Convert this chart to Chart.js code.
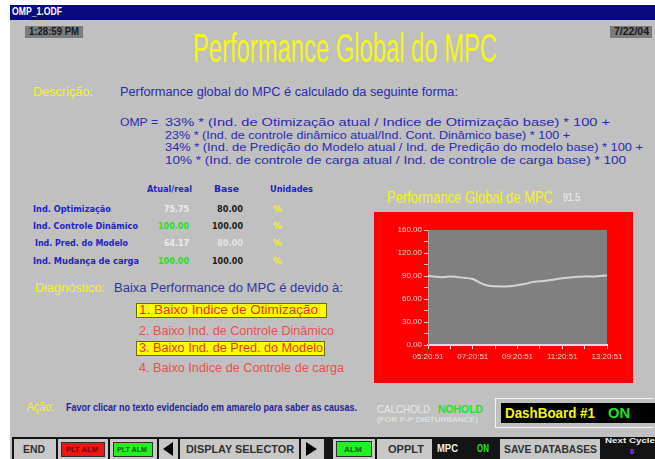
<!DOCTYPE html>
<html>
<head>
<meta charset="utf-8">
<script src="https://cdn.jsdelivr.net/npm/chart.js@4.4.1/dist/chart.umd.min.js"></script>
<style>
  body { margin: 0; width: 655px; height: 459px; background: #fff; overflow: hidden; position: relative; }
  .panel { position: absolute; left: 10px; top: 5px; width: 645px; height: 454px; background: #c0c0c0; }
  .t { position: absolute; white-space: nowrap; line-height: 1; transform-origin: 0 0; display: inline-block;
       font-family: "Liberation Sans Narrow", "Liberation Sans", Arial, sans-serif; }
  .b { font-weight: bold; }
  .v { font-family: "DejaVu Sans Condensed", "DejaVu Sans", Verdana, sans-serif; font-weight: bold; }
  .box { position: absolute; }
  .btn { position: absolute; background: #c8c8c8; }
</style>
</head>
<body>
<div class="panel"></div>
<div class="box" style="left:10px;top:5px;width:645px;height:15px;background:#0a0a80"></div>
<span class="t b" style="left:12px;top:7px;font-size:10px;color:#fff" data-w="50">OMP_1.ODF</span>

<div class="box" style="left:25px;top:26px;width:58px;height:12px;background:#7c7c7c"></div>
<span class="t b" style="left:29px;top:27px;font-size:10px;color:#1a1a1a" data-w="50">1:28:59 PM</span>
<div class="box" style="left:610px;top:26px;width:42px;height:12px;background:#7c7c7c"></div>
<span class="t b" style="left:614px;top:27px;font-size:10px;color:#1a1a1a" data-w="35">7/22/04</span>

<span class="t" style="left:193px;top:28px;font-size:40px;color:#f4f41c" data-w="304">Performance Global do MPC</span>

<span class="t" style="left:33px;top:86px;font-size:12px;color:#f4f41c" data-w="60">Descrição:</span>
<span class="t" style="left:120px;top:86px;font-size:12px;color:#2a2ab4" data-w="338">Performance global do MPC é calculado da seguinte forma:</span>
<span class="t" style="left:120px;top:117px;font-size:11.5px;color:#2a2ab4" data-w="38">OMP =</span>
<span class="t" style="left:165px;top:117px;font-size:11.5px;color:#2a2ab4" data-w="445">33% * (Ind. de Otimização atual / Indice de Otimização base) * 100 +</span>
<span class="t" style="left:165px;top:130px;font-size:11.5px;color:#2a2ab4" data-w="405">23% * (Ind. de controle dinâmico atual/Ind. Cont. Dinâmico base) * 100 +</span>
<span class="t" style="left:165px;top:142px;font-size:11.5px;color:#2a2ab4" data-w="478">34% * (Ind. de Predição do Modelo atual / Ind. de Predição do modelo base) * 100 +</span>
<span class="t" style="left:165px;top:155px;font-size:11.5px;color:#2a2ab4" data-w="461">10% * (Ind. de controle de carga atual / Ind. de controle de carga base) * 100</span>

<span class="t v" style="left:147px;top:185px;font-size:9px;color:#2222c8" data-w="45">Atual/real</span>
<span class="t v" style="left:214px;top:185px;font-size:9px;color:#2222c8" data-w="25">Base</span>
<span class="t v" style="left:270px;top:185px;font-size:9px;color:#2222c8" data-w="43">Unidades</span>

<span class="t v" style="left:33px;top:205px;font-size:9px;color:#2222c8" data-w="78">Ind. Optimização</span>
<span class="t v" style="left:33px;top:222px;font-size:9px;color:#2222c8" data-w="105">Ind. Controle Dinâmico</span>
<span class="t v" style="left:35px;top:239px;font-size:9px;color:#2222c8" data-w="93">Ind. Pred. do Modelo</span>
<span class="t v" style="left:33px;top:257px;font-size:9px;color:#2222c8" data-w="106">Ind. Mudança de carga</span>

<span class="t v" style="left:164px;top:205px;font-size:9px;color:#ececec" data-w="25">75.75</span>
<span class="t v" style="left:158px;top:222px;font-size:9px;color:#22e022" data-w="31">100.00</span>
<span class="t v" style="left:164px;top:239px;font-size:9px;color:#ececec" data-w="25">64.17</span>
<span class="t v" style="left:158px;top:257px;font-size:9px;color:#22e022" data-w="31">100.00</span>

<span class="t v" style="left:217px;top:205px;font-size:9px;color:#1a1a1a" data-w="26">80.00</span>
<span class="t v" style="left:212px;top:222px;font-size:9px;color:#1a1a1a" data-w="31">100.00</span>
<span class="t v" style="left:217px;top:239px;font-size:9px;color:#e4e4e4" data-w="26">80.00</span>
<span class="t v" style="left:212px;top:257px;font-size:9px;color:#1a1a1a" data-w="31">100.00</span>

<span class="t v" style="left:273px;top:205px;font-size:9px;color:#f4f41c" data-w="9">%</span>
<span class="t v" style="left:273px;top:222px;font-size:9px;color:#f4f41c" data-w="9">%</span>
<span class="t v" style="left:273px;top:239px;font-size:9px;color:#f4f41c" data-w="9">%</span>
<span class="t v" style="left:273px;top:257px;font-size:9px;color:#f4f41c" data-w="9">%</span>

<span class="t" style="left:35px;top:282px;font-size:12px;color:#f4f41c" data-w="70">Diagnóstico:</span>
<span class="t" style="left:114px;top:282px;font-size:12px;color:#34349a" data-w="229">Baixa Performance do MPC é devido à:</span>

<div class="box" style="left:136px;top:303px;width:189px;height:13px;background:#ffff00;border:1px solid #6a6a10"></div>
<span class="t" style="left:139px;top:304px;font-size:12px;color:#f03020" data-w="179">1. Baixo Indice de Otimização</span>
<span class="t" style="left:139px;top:325px;font-size:12px;color:#e85050" data-w="195">2. Baixo Ind. de Controle Dinâmico</span>
<div class="box" style="left:136px;top:341px;width:187px;height:13px;background:#ffff00;border:1px solid #6a6a10"></div>
<span class="t" style="left:139px;top:342px;font-size:12px;color:#f03020" data-w="184">3. Baixo Ind. de Pred. do Modelo</span>
<span class="t" style="left:139px;top:362px;font-size:12px;color:#e85050" data-w="205">4. Baixo Indice de Controle de carga</span>

<span class="t" style="left:387px;top:190px;font-size:16px;color:#f4f41c" data-w="166">Performance Global de MPC</span>
<span class="t" style="left:563px;top:193px;font-size:10px;color:#f0f0f0" data-w="17">91.5</span>

<div class="box" style="left:374px;top:212px;width:259px;height:171px;background:#ff0000">
  <canvas id="ompChart"></canvas>
</div>

<span class="t" style="left:27px;top:401px;font-size:12px;color:#f4f41c" data-w="27">Ação:</span>
<span class="t b" style="left:66px;top:402px;font-size:11px;color:#24249a" data-w="291">Favor clicar no texto evidenciado em amarelo para saber as causas.</span>

<span class="t" style="left:377px;top:404px;font-size:11px;color:#e8e8e8" data-w="53">CALCHOLD</span>
<span class="t b" style="left:438px;top:404px;font-size:11px;color:#22e022" data-w="45">NOHOLD</span>
<span class="t" style="left:377px;top:416px;font-size:7px;color:#e8e8e8" data-w="101">(FOR P-P DISTURBANCE)</span>

<div class="box" style="left:495px;top:398px;width:158px;height:28px;border:1px solid #f4f4f4;border-right:none;background:#c0c0c0"></div>
<div class="box" style="left:501px;top:403px;width:154px;height:20px;background:#000"></div>
<span class="t b" style="left:505px;top:406px;font-size:14px;color:#f4f41c" data-w="90">DashBoard #1</span>
<span class="t b" style="left:608px;top:406px;font-size:14px;color:#22e022" data-w="22">ON</span>

<div class="box" style="left:12px;top:437px;width:643px;height:22px;background:#141414"></div>
<div class="btn" style="left:14px;top:439px;width:42px;height:20px"></div>
<span class="t b" style="left:23px;top:444px;font-size:11px;color:#303030" data-w="22">END</span>
<div class="btn" style="left:58px;top:439px;width:50px;height:20px"></div>
<div class="box" style="left:61px;top:442px;width:42px;height:13px;background:#e81818;border:1px solid #303030"></div>
<span class="t b" style="left:66px;top:446px;font-size:7px;color:#7a0000" data-w="32">PLT ALM</span>
<div class="btn" style="left:110px;top:439px;width:47px;height:20px"></div>
<div class="box" style="left:113px;top:442px;width:38px;height:13px;background:#22f022;border:1px solid #303030"></div>
<span class="t b" style="left:117px;top:446px;font-size:7px;color:#106010" data-w="30">PLT ALM</span>
<div class="btn" style="left:159px;top:439px;width:19px;height:20px"></div>
<div class="box" style="left:163px;top:442px;width:0;height:0;border-top:7px solid transparent;border-bottom:7px solid transparent;border-right:10px solid #000"></div>
<div class="btn" style="left:180px;top:439px;width:119px;height:20px"></div>
<span class="t b" style="left:186px;top:444px;font-size:11px;color:#303030" data-w="108">DISPLAY SELECTOR</span>
<div class="btn" style="left:301px;top:439px;width:23px;height:20px"></div>
<div class="box" style="left:306px;top:442px;width:0;height:0;border-top:7px solid transparent;border-bottom:7px solid transparent;border-left:11px solid #000"></div>

<div class="btn" style="left:333px;top:439px;width:42px;height:20px"></div>
<div class="box" style="left:336px;top:441px;width:34px;height:14px;background:#22f022;border:1px solid #303030"></div>
<span class="t b" style="left:344px;top:446px;font-size:7px;color:#106010" data-w="18">ALM</span>
<div class="btn" style="left:377px;top:439px;width:55px;height:20px"></div>
<span class="t b" style="left:388px;top:444px;font-size:11px;color:#303030" data-w="36">OPPLT</span>
<span class="t b" style="left:437px;top:444px;font-size:10px;color:#f0f0f0" data-w="21">MPC</span>
<span class="t b" style="left:477px;top:444px;font-size:10px;color:#22e022" data-w="12">ON</span>
<div class="btn" style="left:500px;top:439px;width:100px;height:20px"></div>
<span class="t b" style="left:504px;top:444px;font-size:11px;color:#303030" data-w="93">SAVE DATABASES</span>
<span class="t b" style="left:605px;top:437px;font-size:8px;color:#f0f0f0" data-w="50">Next Cycle</span>
<span class="t b" style="left:630px;top:448px;font-size:8px;color:#c040ff" data-w="4">0</span>

<script>
// OMP trend, sampled every 20 minutes
const times = ['05:20:51', '05:40:51', '06:00:51', '06:20:51', '06:40:51', '07:00:51', '07:20:51',
  '07:40:51', '08:00:51', '08:20:51', '08:40:51', '09:00:51', '09:20:51', '09:40:51', '10:00:51',
  '10:20:51', '10:40:51', '11:00:51', '11:20:51', '11:40:51', '12:00:51', '12:20:51', '12:40:51',
  '13:00:51', '13:20:51'];
const ompValues = [90, 89, 88.5, 89.5, 88.5, 87.5, 86, 81, 77.5, 76.5, 76.3, 76.5, 78,
  79.5, 82, 83, 84, 85.5, 87, 88, 89, 89.5, 89.5, 90, 90.5];
const xTickLabels = ['05:20:51', '07:20:51', '09:20:51', '11:20:51', '13:20:51'];
const yTickLabels = ['0.00', '30.00', '60.00', '90.00', '120.00', '160.00'];

// fit the hmi texts to the widths measured on the screen
document.querySelectorAll('[data-w]').forEach(el => {
  const w = el.getBoundingClientRect().width;
  if (w > 0) el.style.transform = 'scaleX(' + (el.dataset.w / w) + ')';
});

const plotBg = {
  id: 'plotBg',
  beforeDraw(chart) {
    const a = chart.chartArea;
    chart.ctx.save();
    chart.ctx.fillStyle = '#808080';
    chart.ctx.fillRect(a.left, a.top, a.width, a.height);
    chart.ctx.restore();
  }
};

const ctx = document.getElementById('ompChart').getContext('2d');
const ompChart = new Chart(ctx, {
  type: 'line',
  data: {
    labels: times,
    datasets: [{
      label: 'OMP',
      data: ompValues,
      borderColor: '#d4d4d4',
      borderWidth: 2,
      pointRadius: 0,
      tension: 0.3
    }]
  },
  options: {
    responsive: true,
    maintainAspectRatio: false,
    animation: false,
    layout: { padding: { left: 0, right: 26, top: 18, bottom: 0 } },
    plugins: { legend: { display: false }, tooltip: { enabled: false } },
    scales: {
      x: {
        offset: false,
        afterFit: s => { s.height = 38; },
        border: { color: '#dcdcdc', width: 2 },
        grid: {
          drawOnChartArea: false,
          tickLength: 4,
          tickColor: c => (c.index % 3 === 0 ? '#dcdcdc' : 'rgba(0,0,0,0)')
        },
        ticks: {
          autoSkip: false,
          maxRotation: 0,
          padding: 3,
          color: '#ffcccc',
          font: { family: 'Liberation Sans', size: 8 },
          callback: (v, i) => (xTickLabels.includes(times[i]) ? times[i] : '')
        }
      },
      y: {
        min: 0,
        max: 150,
        afterFit: s => { s.width = 54; },
        border: { color: '#a8a8a8', width: 1 },
        grid: { drawOnChartArea: false, tickLength: 4, tickColor: '#d0d0d0' },
        ticks: {
          stepSize: 15,
          autoSkip: false,
          padding: 2,
          color: '#ffcccc',
          font: { family: 'Liberation Sans', size: 8 },
          callback: v => (v % 30 === 0 ? yTickLabels[v / 30] : '')
        }
      }
    }
  },
  plugins: [plotBg]
});
</script>
</body>
</html>
